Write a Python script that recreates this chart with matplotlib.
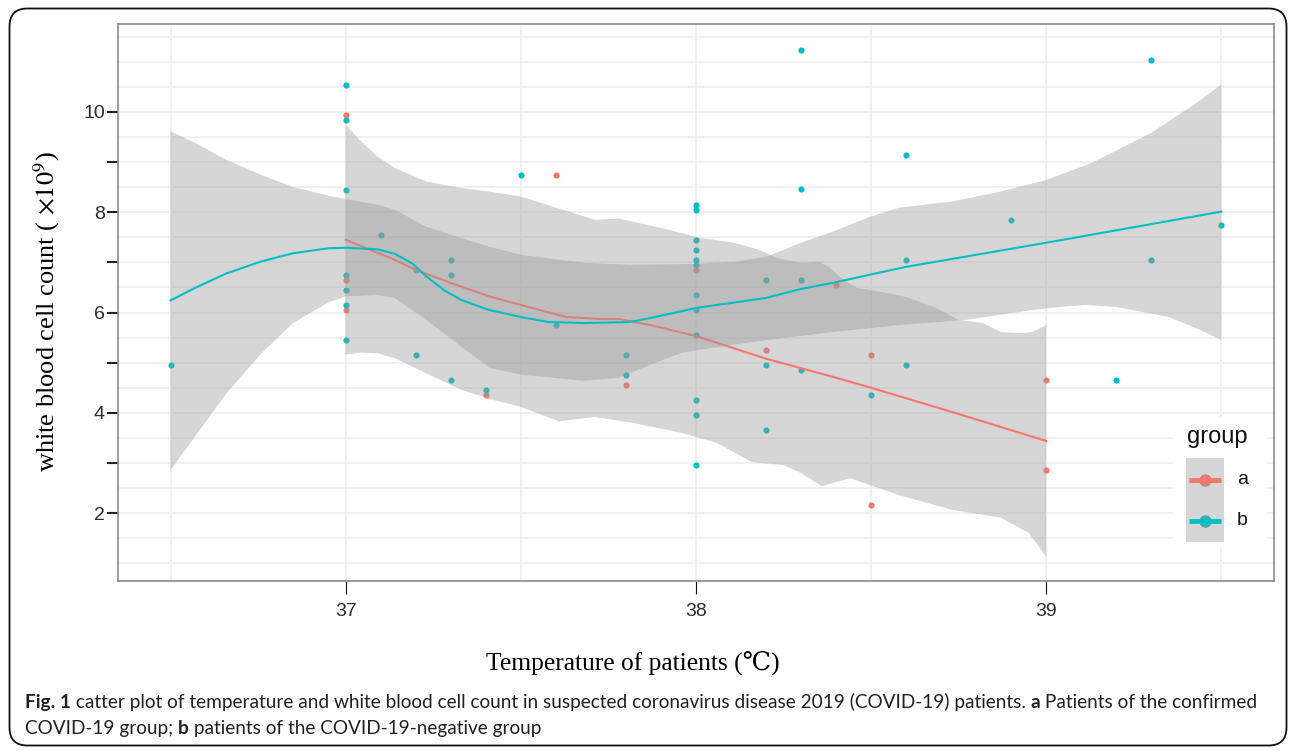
import matplotlib
matplotlib.use('Agg')
import matplotlib.pyplot as plt
import numpy as np
from matplotlib.patches import Rectangle, FancyBboxPatch
from matplotlib.transforms import IdentityTransform

plt.rcParams['font.family'] = ['Liberation Sans', 'DejaVu Sans']
plt.rcParams['mathtext.fontset'] = 'stix'

# ---- data ----
# group a (confirmed)
temp_a = [37.0, 37.0, 37.0, 37.4, 37.6, 37.8, 38.0, 38.2, 38.4, 38.5, 38.5, 39.0, 39.0]
wbc_a = [9.94, 6.65, 6.05, 4.36, 8.74, 4.56, 6.85, 5.26, 6.55, 5.16, 2.16, 4.66, 2.86]

# group b (negative)
temp_b = [36.5,
          37.0, 37.0, 37.0, 37.0, 37.0, 37.0, 37.0,
          37.1, 37.2, 37.2, 37.3, 37.3, 37.3, 37.4, 37.5, 37.6, 37.8, 37.8,
          38.0, 38.0, 38.0, 38.0, 38.0, 38.0, 38.0, 38.0, 38.0, 38.0, 38.0, 38.0,
          38.2, 38.2, 38.2, 38.3, 38.3, 38.3, 38.3, 38.5, 38.6, 38.6, 38.6,
          38.9, 39.2, 39.3, 39.3, 39.5]
wbc_b = [4.96,
         10.54, 9.84, 8.44, 6.75, 6.45, 6.15, 5.45,
         7.55, 6.85, 5.16, 7.05, 6.75, 4.66, 4.46, 8.74, 5.75, 5.16, 4.76,
         8.15, 8.05, 7.45, 7.25, 7.05, 6.95, 6.35, 6.05, 5.55, 4.26, 3.96, 2.96,
         6.65, 4.96, 3.66, 11.24, 8.46, 6.65, 4.86, 4.36, 9.14, 7.05, 4.96,
         7.85, 4.66, 11.04, 7.05, 7.75]

# loess fits and confidence bands (as drawn)
a_fit_t = [37.00, 37.07, 37.14, 37.20, 37.30, 37.41, 37.50, 37.63, 37.73, 37.78,
           37.87, 38.00, 38.20, 38.40, 38.50, 38.73, 39.00]
a_fit_w = [7.45, 7.25, 7.05, 6.85, 6.59, 6.32, 6.15, 5.91, 5.87, 5.87,
           5.75, 5.53, 5.08, 4.70, 4.50, 4.02, 3.44]
a_up_t = [37.00, 37.04, 37.09, 37.14, 37.23, 37.33, 37.41, 37.50, 37.60, 37.71,
          37.78, 37.82, 37.92, 38.01, 38.11, 38.18, 38.23, 38.30, 38.35, 38.38,
          38.42, 38.46, 38.53, 38.60, 38.68, 38.75, 38.82, 38.87, 38.93, 38.96, 39.00]
a_up_w = [9.74, 9.44, 9.11, 8.88, 8.61, 8.48, 8.41, 8.31, 8.09, 7.85,
          7.87, 7.81, 7.65, 7.49, 7.39, 7.25, 7.09, 6.99, 7.01, 6.91,
          6.65, 6.49, 6.41, 6.31, 6.11, 5.85, 5.79, 5.61, 5.59, 5.61, 5.75]
a_lo_t = [37.00, 37.04, 37.09, 37.14, 37.23, 37.33, 37.41, 37.50, 37.61, 37.71,
          37.82, 37.96, 38.06, 38.16, 38.25, 38.30, 38.36, 38.44, 38.58, 38.73,
          38.87, 38.95, 39.00]
a_lo_w = [5.16, 5.20, 5.19, 5.09, 4.79, 4.46, 4.28, 4.12, 3.83, 3.92,
          3.80, 3.60, 3.40, 3.02, 2.96, 2.80, 2.54, 2.70, 2.36, 2.07,
          1.91, 1.61, 1.13]

b_fit_t = [36.50, 36.57, 36.66, 36.76, 36.85, 36.95, 37.00, 37.09, 37.14, 37.19,
           37.23, 37.28, 37.33, 37.41, 37.45, 37.50, 37.58, 37.68, 37.81, 37.87,
           38.00, 38.20, 38.30, 38.39, 38.60, 39.00, 39.50]
b_fit_w = [6.24, 6.49, 6.78, 7.02, 7.18, 7.28, 7.29, 7.26, 7.17, 6.98,
           6.72, 6.45, 6.25, 6.05, 5.99, 5.91, 5.81, 5.79, 5.81, 5.89,
           6.09, 6.29, 6.47, 6.59, 6.91, 7.39, 8.01]
b_up_t = [36.50, 36.57, 36.66, 36.76, 36.85, 36.95, 37.00, 37.09, 37.14, 37.23,
          37.33, 37.41, 37.50, 37.68, 37.82, 38.00, 38.11, 38.20, 38.30, 38.39,
          38.49, 38.58, 38.73, 38.87, 39.00, 39.13, 39.30, 39.43, 39.50]
b_up_w = [9.61, 9.38, 9.04, 8.74, 8.50, 8.33, 8.26, 8.15, 8.05, 7.71,
          7.48, 7.31, 7.15, 6.99, 6.95, 6.97, 7.01, 7.11, 7.39, 7.61,
          7.89, 8.09, 8.21, 8.41, 8.64, 8.98, 9.58, 10.18, 10.54]
b_lo_t = [36.50, 36.57, 36.66, 36.76, 36.85, 36.95, 37.00, 37.09, 37.14, 37.23,
          37.33, 37.41, 37.50, 37.68, 37.78, 37.87, 37.96, 38.06, 38.20, 38.39,
          38.58, 38.77, 38.96, 39.04, 39.11, 39.20, 39.35, 39.44, 39.50]
b_lo_w = [2.86, 3.53, 4.39, 5.19, 5.79, 6.20, 6.32, 6.35, 6.29, 5.85,
          5.32, 4.90, 4.76, 4.64, 4.70, 4.96, 5.20, 5.31, 5.45, 5.61,
          5.75, 5.85, 6.05, 6.11, 6.15, 6.11, 5.91, 5.65, 5.45]

groups = ['a', 'b']
RED = '#F8766D'
CYAN = '#00BFC4'
BAND = '#999999'

fig = plt.figure(figsize=(12.92, 7.51), dpi=100)
ax = fig.add_axes([0.0913, 0.2264, 0.8947, 0.7417])

ax.scatter(temp_a, wbc_a, s=20, color=RED, lw=0, zorder=2)
ax.scatter(temp_b, wbc_b, s=20, color=CYAN, lw=0, zorder=2)

ax.fill(np.r_[a_up_t, a_lo_t[::-1]], np.r_[a_up_w, a_lo_w[::-1]],
        color=BAND, alpha=0.4, lw=0, zorder=3)
ax.plot(a_fit_t, a_fit_w, color=RED, lw=1.5, zorder=4, solid_joinstyle='round')
ax.fill(np.r_[b_up_t, b_lo_t[::-1]], np.r_[b_up_w, b_lo_w[::-1]],
        color=BAND, alpha=0.4, lw=0, zorder=5)
ax.plot(b_fit_t, b_fit_w, color=CYAN, lw=1.5, zorder=6, solid_joinstyle='round')

ax.set_xlim(36.35, 39.65)
ax.set_ylim(0.65, 11.75)
ax.set_xticks([37, 38, 39])
ax.set_xticks(np.arange(36.5, 40, 0.5), minor=True)
ax.set_yticks(np.arange(2, 11))
ax.set_yticklabels(['2', '', '4', '', '6', '', '8', '', '10'])
ax.set_yticks(np.arange(1, 12, 0.5), minor=True)
ax.set_axisbelow(True)
ax.grid(True, which='both', color='#eeeeee', lw=1.2)
ax.tick_params(axis='y', which='major', length=8, width=1.5, color='#222222',
               pad=1.5, labelsize=14, labelcolor='#2b2b2b')
ax.tick_params(axis='x', which='major', length=9, width=0.8, color='#111111',
               pad=7, labelsize=14, labelcolor='#2b2b2b')
ax.tick_params(which='minor', length=0)
for s in ax.spines.values():
    s.set_color('#8c8c8c')
    s.set_linewidth(1.2)

# legend, ggplot style
tr = ax.transAxes
ax.add_patch(Rectangle((0.9126, 0.061), 0.0813, 0.233, transform=tr, fc='white',
                       ec='none', zorder=10, clip_on=False))
ax.text(0.9247, 0.2585, 'group', transform=tr, fontsize=17, va='center', ha='left',
        color='#111111', zorder=14)
key_y = [0.1813, 0.1077]
for g, c, yy in zip(groups, [RED, CYAN], key_y):
    ax.plot([0.9403], [yy], 'o', ms=8, color=c, transform=tr, zorder=11, clip_on=False)
ax.add_patch(Rectangle((0.9239, 0.0700), 0.0328, 0.1508, transform=tr, fc=BAND,
                       alpha=0.4, ec='none', zorder=12, clip_on=False))
for g, c, yy in zip(groups, [RED, CYAN], key_y):
    ax.plot([0.9265, 0.9542], [yy, yy], color=c, lw=3.5, transform=tr, zorder=13,
            solid_capstyle='butt', clip_on=False)
    ax.text(0.968, yy, g, transform=tr, fontsize=14, va='center', ha='left',
            color='#111111', zorder=14)

# axis titles
px = IdentityTransform()
serif = ['Liberation Serif', 'DejaVu Serif', 'DejaVu Sans']
fig.text(633, 751 - 663, 'Temperature of patients (\u2103)', transform=px,
         family=serif, fontsize=18.4, ha='center', va='center')
fig.text(47, 751 - 312, 'white blood cell count ( $\\times10^{9}$)', transform=px,
         family=serif, fontsize=19, rotation=90, ha='center', va='center')

# outer frame
fig.add_artist(FancyBboxPatch((9.5, 5.5), 1277, 737, boxstyle='round,pad=0,rounding_size=18',
                              transform=px, fill=False, ec='#111111', lw=1.3))

# caption with bold runs
renderer = fig.canvas.get_renderer()
cap_font = 'Lato'


def run_width(txt, bold, size):
    w = 'bold' if bold else 'normal'
    t1 = fig.text(0, 0, '|' + txt + '|', fontsize=size, family=cap_font, fontweight=w)
    t2 = fig.text(0, 0, '||', fontsize=size, family=cap_font, fontweight=w)
    d = t1.get_window_extent(renderer).width - t2.get_window_extent(renderer).width
    t1.remove()
    t2.remove()
    return d


def put_runs(x, y, runs, size):
    for txt, bold in runs:
        fig.text(x, y, txt, transform=px, fontsize=size, family=cap_font,
                 fontweight='bold' if bold else 'normal', color='#231f20',
                 ha='left', va='baseline')
        x += run_width(txt, bold, size)


line1 = [('Fig. 1', True),
         (' catter plot of temperature and white blood cell count in suspected coronavirus '
          'disease 2019 (COVID-19) patients. ', False),
         ('a', True), (' Patients of the confirmed', False)]
line2 = [('COVID-19 group; ', False), ('b', True),
         (' patients of the COVID-19-negative group', False)]

w10 = sum(run_width(t, b, 10) for t, b in line1)
cap_size = 10 * 1233 / w10
put_runs(25, 751 - 708, line1, cap_size)
put_runs(25, 751 - 734, line2, cap_size)

fig.savefig('out.png', dpi=100)
